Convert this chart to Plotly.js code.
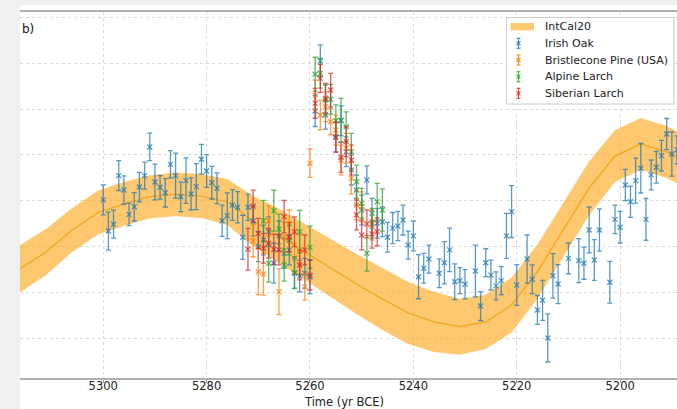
<!DOCTYPE html>
<html>
<head>
<meta charset="utf-8">
<script src="https://cdn.plot.ly/plotly-3.0.1.min.js"></script>
<style>
  html, body { margin: 0; padding: 0; background: #f0f0f0; width: 677px; height: 409px; overflow: hidden; }
  #plot { position: absolute; left: 20px; top: 5px; width: 657px; height: 404px; background: #ffffff; }
</style>
</head>
<body>
<div id="plot"></div>
<script>
// ---- IntCal20 calibration curve (5-yr resolution) ----
const intcalYears = [5321,5316,5311,5306,5301,5296,5291,5286,5281,5276,5271,5266,5261,5256,5251,5246,5241,5236,5231,5226,5221,5216,5211,5206,5201,5196,5191,5186];
const intcalMean  = [2.33,3.06,3.78,4.73,5.49,5.86,6.18,6.28,6.21,5.95,5.12,4.47,3.76,3.07,2.37,1.72,1.11,0.72,0.51,0.72,1.46,2.91,4.73,6.55,7.95,8.48,8.13,7.56];
const intcalSigma = [1.05,1.02,1.00,0.96,0.96,0.96,0.94,0.95,0.96,1.00,1.09,1.18,1.22,1.26,1.31,1.35,1.35,1.31,1.22,1.18,1.20,1.18,1.18,1.18,1.13,1.13,1.13,1.13];

// ---- Irish Oak ----
const oakYears  = [5300,5299,5298,5297,5296,5295,5294,5293,5292,5291,5290,5289,5288,5287,5286,5285,5284,5283,5282,5281,5280,5279,5278,5277,5276,5275,5274,5273,5272,5271,5270,5269,5268,5267,5266,5265,5264,5263,5262,5261,5260,5259,5258,5257,5255,5254,5253,5252,5251,5250,5249,5248,5247,5246,5245,5244,5243,5242,5241,5240,5239,5238,5237,5235,5234,5233,5232,5231,5230,5228,5227,5226,5225,5224,5223,5222,5221,5220,5218,5217,5216,5215,5214,5213,5212,5210,5208,5207,5206,5205,5204,5202,5201,5200,5199,5198,5197,5196,5195,5194,5193,5192,5191,5190,5189];
const oakValues = [6.04,4.68,4.98,7.10,6.47,5.41,5.74,6.60,7.10,8.35,6.82,6.59,6.35,7.59,7.10,6.18,6.88,6.30,6.62,7.81,7.30,6.79,6.55,5.13,5.35,5.82,5.72,4.41,5.72,5.12,4.00,4.29,4.65,3.28,4.47,3.71,3.86,2.84,2.72,2.84,2.69,9.92,12.11,9.74,8.78,9.49,8.14,7.34,6.47,5.60,6.91,5.46,5.02,5.09,4.41,4.81,4.90,5.16,4.07,4.47,2.69,3.06,3.46,2.84,3.30,3.86,2.47,2.52,2.36,2.94,1.41,3.30,2.76,2.29,2.52,4.47,5.53,2.33,3.46,2.58,1.24,1.66,0.02,2.73,2.37,3.49,3.39,3.28,4.73,3.42,4.73,2.45,5.19,4.85,6.69,5.96,6.88,7.42,5.19,7.13,7.46,7.97,8.91,8.04,8.22];
const oakErrors = [0.65,0.83,0.61,0.65,0.62,0.49,0.62,0.64,0.59,0.60,0.78,0.51,0.62,0.60,0.98,0.65,0.99,0.70,1.00,0.65,0.71,0.71,0.67,0.68,1.00,0.67,0.68,0.96,0.57,0.65,0.65,0.65,0.65,0.87,0.65,0.65,0.65,0.65,0.69,0.65,0.74,0.68,0.69,0.61,0.65,0.65,0.65,0.65,0.65,0.65,0.61,0.65,0.65,0.65,0.65,0.68,0.64,0.65,0.61,0.65,0.96,0.65,0.61,0.63,0.92,0.95,0.78,0.57,0.64,1.13,0.63,0.61,0.65,0.61,0.61,0.98,1.13,0.89,1.05,0.63,0.63,0.87,1.05,0.97,0.85,0.67,0.96,0.70,1.00,0.89,0.92,0.91,0.62,0.69,0.68,0.68,0.98,1.08,0.91,0.65,0.69,0.67,0.68,0.96,0.61];

// ---- Bristlecone Pine (USA) ----
const pineYears  = [5271,5270,5269,5268,5266,5265,5264,5263,5262,5261,5260,5259,5258,5257,5256,5255,5254,5253,5252,5251,5250,5248];
const pineValues = [4.25,2.91,2.81,5.13,2.04,4.41,4.99,3.49,3.86,2.25,7.64,10.61,9.74,10.10,9.45,9.09,7.78,8.29,6.98,5.82,5.74,4.95];
const pineErrors = [0.70,1.00,0.92,0.65,1.00,0.65,0.61,0.65,0.65,0.58,0.62,0.65,0.64,0.65,0.57,0.65,0.65,0.65,0.69,0.65,0.65,0.65];

// ---- Alpine Larch ----
const alpYears  = [5269,5268,5267,5266,5265,5264,5263,5262,5260,5259,5258,5257,5256,5255,5254,5253,5252,5251,5250,5249,5248,5247,5246];
const alpValues = [5.13,3.28,5.57,4.77,3.20,4.29,2.87,4.65,3.97,11.52,11.56,10.40,10.43,9.49,9.52,9.23,8.14,6.83,5.89,3.71,5.02,5.96,5.60];
const alpErrors = [0.89,0.83,0.89,0.65,0.70,0.65,0.70,0.93,0.92,0.74,0.65,0.65,0.65,0.69,0.95,0.65,0.80,0.73,0.65,0.78,0.65,0.80,0.92];

// ---- Siberian Larch ----
const sibYears  = [5272,5271,5270,5269,5268,5267,5266,5265,5264,5263,5262,5261,5260,5259,5258,5257,5256,5255,5254,5253,5252,5251,5250,5249,5248,5247];
const sibValues = [3.89,5.77,4.58,3.93,4.15,3.89,3.86,5.31,4.41,4.65,3.20,3.86,2.76,10.25,11.34,10.47,10.83,8.77,7.90,8.58,7.78,5.38,4.51,4.99,4.55,4.65];
const sibErrors = [0.91,0.70,0.65,0.65,0.65,0.65,0.65,0.71,0.65,0.65,0.65,0.65,0.65,0.65,0.61,0.65,0.73,0.65,0.65,0.65,0.65,0.65,0.65,0.61,0.61,0.61];

const tickYears = [5300, 5280, 5260, 5240, 5220, 5200];
const seriesNames = ['Irish Oak', 'Bristlecone Pine (USA)', 'Alpine Larch', 'Siberian Larch'];
const seriesRGB = ['31,119,180', '255,127,14', '44,160,44', '214,39,40'];

const upper = intcalMean.map((m, i) => m + intcalSigma[i]);
const lower = intcalMean.map((m, i) => m - intcalSigma[i]);
const bandFill = 'rgba(253,170,35,0.65)';

function series(name, xs, ys, es, rgb) {
  const col = 'rgba(' + rgb + ',0.75)';
  return {
    type: 'scatter', mode: 'markers', name: name,
    x: xs, y: ys,
    marker: { symbol: 'x-thin', size: 5, color: col, line: { color: col, width: 1.3 } },
    error_y: { type: 'data', array: es, visible: true, color: col, thickness: 1.3, width: 2.5 },
    cliponaxis: true
  };
}

const traces = [
  { type: 'scatter', mode: 'lines', x: intcalYears, y: lower, line: { width: 0, color: 'rgba(0,0,0,0)' },
    showlegend: false, hoverinfo: 'skip' },
  { type: 'scatter', mode: 'lines', name: 'IntCal20', x: intcalYears, y: upper, fill: 'tonexty',
    fillcolor: bandFill, line: { width: 0, color: bandFill } },
  { type: 'scatter', mode: 'lines', x: intcalYears, y: intcalMean, line: { width: 1.2, color: 'rgb(240,165,25)' },
    showlegend: false },
  series(seriesNames[0], oakYears, oakValues, oakErrors, seriesRGB[0]),
  series(seriesNames[1], pineYears, pineValues, pineErrors, seriesRGB[1]),
  series(seriesNames[2], alpYears, alpValues, alpErrors, seriesRGB[2]),
  series(seriesNames[3], sibYears, sibValues, sibErrors, seriesRGB[3])
];

// ---- hand-drawn legend (matplotlib-style compact box) ----
// plot area in page pixels: x 20..677, y 12..378
const PX = p => (p - 20) / 657;
const PY = p => (378 - p) / 366;
const shapes = [];
const annotations = [];
shapes.push({ type: 'rect', xref: 'paper', yref: 'paper', x0: PX(506.5), x1: PX(674), y0: PY(104), y1: PY(17.5),
  line: { color: '#cccccc', width: 1 }, fillcolor: 'rgba(255,255,255,0.85)', layer: 'above' });
const rowY = [26.7, 43.3, 60, 76.7, 93.3];
const legendLabels = ['IntCal20'].concat(seriesNames);
shapes.push({ type: 'rect', xref: 'paper', yref: 'paper', x0: PX(510.5), x1: PX(534), y0: PY(rowY[0] + 3.6), y1: PY(rowY[0] - 3.6),
  line: { width: 0 }, fillcolor: bandFill, layer: 'above' });
seriesRGB.forEach((rgb, i) => {
  const col = 'rgba(' + rgb + ',0.8)';
  const y = rowY[i + 1], cx = 518.5;
  const seg = (x0, y0, x1, y1) => shapes.push({ type: 'line', xref: 'paper', yref: 'paper',
    x0: PX(x0), y0: PY(y0), x1: PX(x1), y1: PY(y1), line: { color: col, width: 1.2 }, layer: 'above' });
  seg(cx, y - 5, cx, y + 5);
  seg(cx - 2, y - 5, cx + 2, y - 5);
  seg(cx - 2, y + 5, cx + 2, y + 5);
  seg(cx - 2, y - 2, cx + 2, y + 2);
  seg(cx - 2, y + 2, cx + 2, y - 2);
});
legendLabels.forEach((t, i) => {
  annotations.push({ xref: 'paper', yref: 'paper', x: PX(542.5), y: PY(rowY[i]), xanchor: 'left', yanchor: 'middle',
    text: t, showarrow: false, font: { family: 'DejaVu Sans, sans-serif', size: 11, color: '#222' } });
});
annotations.push({ xref: 'paper', yref: 'paper', x: 0, y: PY(29), xanchor: 'left', yanchor: 'middle',
  text: 'b)', showarrow: false, font: { family: 'DejaVu Sans, sans-serif', size: 12, color: '#111' } });
annotations.push({ xref: 'paper', yref: 'paper', x: PX(343.5), y: PY(401.5), xanchor: 'center', yanchor: 'middle',
  text: 'Time (yr BCE)', showarrow: false, font: { family: 'DejaVu Sans, sans-serif', size: 11.5, color: '#222' } });

const layout = {
  width: 657, height: 404,
  margin: { l: 0, r: 0, t: 7, b: 31 },
  paper_bgcolor: '#ffffff', plot_bgcolor: '#ffffff',
  font: { family: 'DejaVu Sans, sans-serif', size: 11.5, color: '#222' },
  showlegend: false,
  xaxis: {
    range: [5316.1, 5189.0],
    tickvals: tickYears, ticktext: tickYears.map(String),
    ticks: 'outside', ticklen: 3.5, tickcolor: '#999', tickwidth: 1,
    ticklabelstandoff: -7,
    showgrid: true, gridcolor: '#d9d9d9', griddash: 'dot', gridwidth: 1,
    showline: true, mirror: true, linecolor: '#b0b0b0', linewidth: 1.6,
    zeroline: false,
    tickfont: { family: 'DejaVu Sans, sans-serif', size: 11.5, color: '#222' }
  },
  yaxis: {
    range: [-1.727, 14.234], tick0: 0, dtick: 2,
    showticklabels: false, ticks: '',
    showgrid: true, gridcolor: '#d9d9d9', griddash: 'dot', gridwidth: 1,
    showline: false, zeroline: false
  },
  shapes: shapes,
  annotations: annotations
};

Plotly.newPlot('plot', traces, layout, { displayModeBar: false, staticPlot: true });
</script>
</body>
</html>
